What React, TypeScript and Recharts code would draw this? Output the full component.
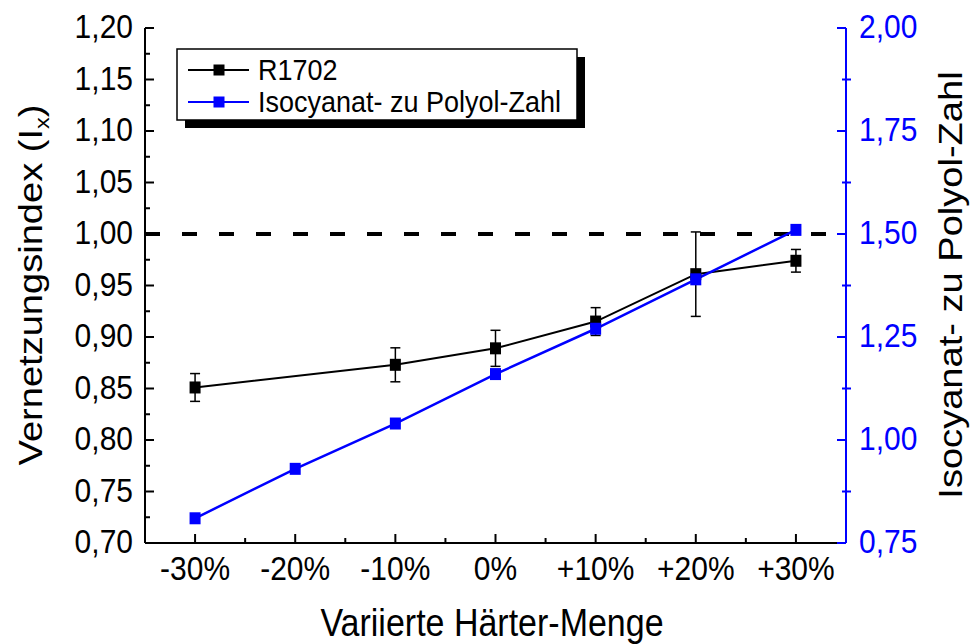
import React from 'react';
import { ComposedChart, Line, XAxis, YAxis, ErrorBar, ReferenceLine } from 'recharts';

// Hardener amount variation (x categories)
const steps = [-30, -20, -10, 0, 10, 20, 30];
const stepLabels = ['-30%', '-20%', '-10%', '0%', '+10%', '+20%', '+30%'];

// Crosslinking index of R1702 with standard deviation (no sample at -20 %)
const r1702 = [0.851, null, 0.873, 0.889, 0.915, 0.961, 0.974];
const r1702Err = [0.0135, null, 0.0165, 0.0175, 0.0135, 0.041, 0.011];

// Isocyanate to polyol number (right axis)
const ncoOhRatio = [0.81, 0.93, 1.04, 1.16, 1.27, 1.39, 1.51];

// Axis ticks
const leftTicks = [0.7, 0.75, 0.8, 0.85, 0.9, 0.95, 1.0, 1.05, 1.1, 1.15, 1.2];
const leftTickLabels = ['0,70', '0,75', '0,80', '0,85', '0,90', '0,95', '1,00', '1,05', '1,10', '1,15', '1,20'];
const rightTicks = [0.75, 1.0, 1.25, 1.5, 1.75, 2.0];
const rightTickLabels = ['0,75', '1,00', '1,25', '1,50', '1,75', '2,00'];
const referenceIndex = 1.0;

const withMinors = (major: number[]) => {
  const out: number[] = [];
  major.forEach((v, i) => {
    out.push(v);
    if (i < major.length - 1) out.push((v + major[i + 1]) / 2);
  });
  return out;
};

const rows = steps.map((s, i) => ({
  step: s,
  ix: r1702[i],
  ixErr: r1702Err[i],
  ratio: ncoOhRatio[i],
}));

const FONT = '"Liberation Sans", Arial, Helvetica, sans-serif';
const BLUE = '#0000FF';
const TICK_FS = 30;
const STRETCH = 1.12;

// text drawn slightly taller than wide, anchored at its baseline point
const Tall = ({ x, y, rotate = false, children, ...rest }: any) => (
  <text
    x={0}
    y={0}
    transform={
      rotate
        ? `translate(${x},${y}) rotate(-90) scale(${STRETCH},1)`
        : `translate(${x},${y}) scale(1,${STRETCH})`
    }
    fontFamily={FONT}
    {...rest}
  >
    {children}
  </text>
);

const findIdx = (arr: number[], v: number) => arr.findIndex((t) => Math.abs(t - v) < 1e-6);

const LeftTick = (props: any) => {
  const { x, y, payload } = props;
  const idx = findIdx(leftTicks, payload.value);
  const major = idx >= 0;
  return (
    <g>
      <line x1={x} x2={x + (major ? 9 : 5)} y1={y} y2={y} stroke="#000" strokeWidth={2} />
      {major && (
        <Tall x={x - 12} y={y + 10} textAnchor="end" fontSize={TICK_FS} fill="#000">
          {leftTickLabels[idx]}
        </Tall>
      )}
    </g>
  );
};

const RightTick = (props: any) => {
  const { x, y, payload } = props;
  const idx = findIdx(rightTicks, payload.value);
  const major = idx >= 0;
  return (
    <g>
      {major ? (
        <line x1={x - 9} x2={x} y1={y} y2={y} stroke={BLUE} strokeWidth={2} />
      ) : (
        <line x1={x - 4} x2={x + 5} y1={y} y2={y} stroke={BLUE} strokeWidth={2} />
      )}
      {major && (
        <Tall x={x + 13} y={y + 10} textAnchor="start" fontSize={TICK_FS} fill={BLUE}>
          {rightTickLabels[idx]}
        </Tall>
      )}
    </g>
  );
};

const BottomTick = (props: any) => {
  const { x, y, payload } = props;
  const idx = findIdx(steps, payload.value);
  const major = idx >= 0;
  return (
    <g>
      <line x1={x} x2={x} y1={y} y2={y - (major ? 9 : 5)} stroke="#000" strokeWidth={2} />
      {major && (
        <Tall x={x} y={y + 37} textAnchor="middle" fontSize={TICK_FS} fill="#000">
          {stepLabels[idx]}
        </Tall>
      )}
    </g>
  );
};

const TopTick = (props: any) => {
  const { x, y, payload } = props;
  const major = findIdx(steps, payload.value) >= 0;
  return <line x1={x} x2={x} y1={y} y2={y + (major ? 9 : 5)} stroke="#000" strokeWidth={2} />;
};

const squareDot = (color: string) => (props: any) => {
  const { cx, cy, index } = props;
  if (cx == null || cy == null || Number.isNaN(cy)) return <g key={`d-${index}`} />;
  return <rect key={`d-${index}`} x={cx - 5.5} y={cy - 6} width={11} height={12} fill={color} />;
};

const stepDomain = [-35, 35];

export default function App() {
  return (
    <div style={{ position: 'absolute', left: 0, top: 0, width: 971, height: 644, background: '#fff' }}>
      <ComposedChart width={971} height={644} data={rows} margin={{ top: 28, right: 0, bottom: 0, left: 0 }}>
        <XAxis
          dataKey="step"
          type="number"
          domain={stepDomain}
          ticks={withMinors(steps)}
          interval={0}
          height={101}
          tickSize={0}
          tickMargin={0}
          tickLine={false}
          tick={<BottomTick />}
          axisLine={{ stroke: '#000', strokeWidth: 2 }}
        />
        <XAxis
          xAxisId="top"
          orientation="top"
          dataKey="step"
          type="number"
          domain={stepDomain}
          ticks={withMinors(steps)}
          interval={0}
          height={0}
          tickSize={0}
          tickMargin={0}
          tickLine={false}
          tick={<TopTick />}
          axisLine={{ stroke: '#000', strokeWidth: 2 }}
        />
        <YAxis
          yAxisId="left"
          orientation="left"
          type="number"
          domain={[0.7, 1.2]}
          ticks={withMinors(leftTicks)}
          interval={0}
          width={145}
          tickSize={0}
          tickMargin={0}
          tickLine={false}
          tick={<LeftTick />}
          axisLine={{ stroke: '#000', strokeWidth: 2 }}
          allowDataOverflow
        />
        <YAxis
          yAxisId="right"
          orientation="right"
          type="number"
          domain={[0.75, 2.0]}
          ticks={withMinors(rightTicks)}
          interval={0}
          width={125}
          tickSize={0}
          tickMargin={0}
          tickLine={false}
          tick={<RightTick />}
          axisLine={{ stroke: BLUE, strokeWidth: 2 }}
          allowDataOverflow
        />
        <ReferenceLine
          yAxisId="left"
          y={referenceIndex}
          stroke="#000"
          strokeWidth={4}
          strokeDasharray="15 22"
        />
        <Line
          yAxisId="left"
          dataKey="ix"
          stroke="#000"
          strokeWidth={2}
          connectNulls
          dot={squareDot('#000')}
          activeDot={false}
          isAnimationActive={false}
        >
          <ErrorBar dataKey="ixErr" width={5} stroke="#000" strokeWidth={1.5} direction="y" />
        </Line>
        <Line
          yAxisId="right"
          dataKey="ratio"
          stroke={BLUE}
          strokeWidth={2.5}
          dot={squareDot(BLUE)}
          activeDot={false}
          isAnimationActive={false}
        />
      </ComposedChart>
      <svg
        width={971}
        height={644}
        style={{ position: 'absolute', left: 0, top: 0, pointerEvents: 'none' }}
      >
        {/* legend with drop shadow */}
        <rect x={185} y={57} width={400} height={71} fill="#000" />
        <rect x={177} y={49} width={400} height={71} fill="#fff" stroke="#000" strokeWidth={1.5} />
        <line x1={188} x2={249} y1={70} y2={70} stroke="#000" strokeWidth={2} />
        <rect x={213.5} y={64.5} width={11} height={11} fill="#000" />
        <Tall x={258} y={80} fontSize={27} fill="#000">R1702</Tall>
        <line x1={188} x2={249} y1={102} y2={102} stroke={BLUE} strokeWidth={2} />
        <rect x={213.5} y={96.5} width={11} height={11} fill={BLUE} />
        <Tall x={258} y={112} fontSize={27} fill="#000">Isocyanat- zu Polyol-Zahl</Tall>

        {/* axis titles */}
        <Tall x={492} y={636} textAnchor="middle" fontSize={34} fill="#000">
          Variierte Härter-Menge
        </Tall>
        <Tall x={42} y={285} rotate textAnchor="middle" fontSize={34} fill="#000">
          Vernetzungsindex (I<tspan fontSize={21} dy={7}>x</tspan>
          <tspan dy={-7}>)</tspan>
        </Tall>
        <Tall x={962} y={285} rotate textAnchor="middle" fontSize={34} fill="#000">
          Isocyanat- zu Polyol-Zahl
        </Tall>
      </svg>
    </div>
  );
}
